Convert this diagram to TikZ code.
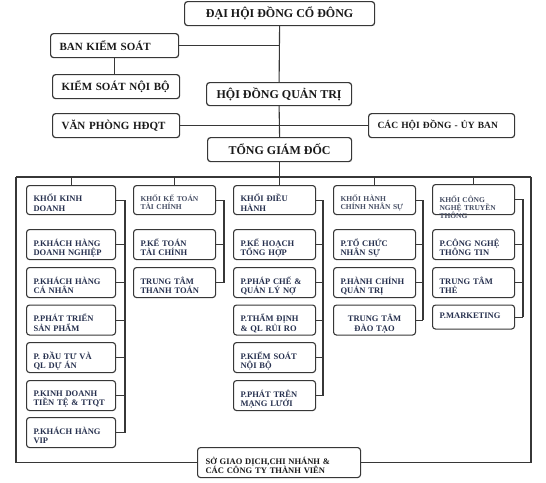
\documentclass[tikz,border=0pt]{standalone}
\usepackage{fontspec}
\setmainfont{Liberation Serif}
\definecolor{framegrey}{RGB}{55,55,55}
\definecolor{headink}{RGB}{25,25,25}
\definecolor{unitnavy}{RGB}{38,48,78}
\definecolor{unitslate}{RGB}{70,78,100}
\newcommand{\topfont}{\bfseries\fontsize{12}{14}\selectfont}
\newcommand{\midfont}{\bfseries\fontsize{11}{13}\selectfont}
\newcommand{\unitfont}{\bfseries\fontsize{8.5}{9.5}\selectfont}
\newcommand{\headunitfont}{\bfseries\fontsize{7.5}{8.5}\selectfont}

\begin{document}
\begin{tikzpicture}[x=1pt,y=-1pt,
    board/.style={draw=framegrey,line width=1.2pt,rounded corners=3pt,fill=white,
      anchor=north west,inner xsep=9pt,inner ysep=2pt,minimum height=24pt,
      font=\topfont,text=headink},
    unit/.style={draw=framegrey,line width=1.1pt,rounded corners=3pt,fill=white,
      anchor=north west,inner xsep=7pt,inner ysep=2pt,minimum height=30pt,
      text width=68pt,align=left,text depth=4pt,font=\unitfont,text=unitnavy},
    headunit/.style={unit,minimum height=29pt,font=\headunitfont,text=unitslate},
    link/.style={framegrey,line width=1.1pt}]
  \useasboundingbox (0,0) rectangle (546,482);

  % shareholders, board and CEO
  \node[board,minimum width=190pt] (dhcd) at (184,1) {ĐẠI HỘI ĐỒNG CỔ ĐÔNG};
  \node[board,font=\midfont,text width=110pt,align=left] (bks) at (50,33) {BAN KIỂM SOÁT};
  \node[board,font=\midfont,text width=109pt,align=left] (ksnb) at (52,74) {KIỂM SOÁT NỘI BỘ};
  \node[board,minimum width=145pt,minimum height=23pt] (hdqt) at (206,82) {HỘI ĐỒNG QUẢN TRỊ};
  \node[board,font=\midfont,text width=109pt,align=left] (vp) at (52,113) {VĂN PHÒNG HĐQT};
  \node[board,font=\bfseries\fontsize{9.5}{11}\selectfont,text width=128pt,align=left]
    (chd) at (368,113) {CÁC HỘI ĐỒNG - ỦY BAN};
  \node[board,minimum width=144pt] (tgd) at (207,137) {TỔNG GIÁM ĐỐC};

  % khoi kinh doanh
  \node[unit,text width=75pt,minimum height=29pt] (kd1) at (26,185) {KHỐI KINH\\DOANH};
  \node[unit,text width=75pt] (kd2) at (26,229) {P.KHÁCH HÀNG\\DOANH NGHIỆP};
  \node[unit,text width=75pt] (kd3) at (26,267) {P.KHÁCH HÀNG\\CÁ NHÂN};
  \node[unit,text width=75pt] (kd4) at (26,304.5) {P.PHÁT TRIỂN\\SẢN PHẨM};
  \node[unit,text width=75pt] (kd5) at (26,342) {P. ĐẦU TƯ VÀ\\QL DỰ ÁN};
  \node[unit,text width=75pt] (kd6) at (26,380) {P.KINH DOANH\\TIỀN TỆ \& TTQT};
  \node[unit,text width=75pt] (kd7) at (26,417) {P.KHÁCH HÀNG\\VIP};

  % khoi ke toan
  \node[headunit] (kt1) at (133,185) {KHỐI KẾ TOÁN\\TÀI CHÍNH};
  \node[unit] (kt2) at (133,229) {P.KẾ TOÁN\\TÀI CHÍNH};
  \node[unit] (kt3) at (133,267) {TRUNG TÂM\\THANH TOÁN};

  % khoi dieu hanh
  \node[unit,minimum height=29pt] (dh1) at (233,185) {KHỐI ĐIỀU\\HÀNH};
  \node[unit] (dh2) at (233,229) {P.KẾ HOẠCH\\TỔNG HỢP};
  \node[unit] (dh3) at (233,267) {P.PHÁP CHẾ \&\\QUẢN LÝ NỢ};
  \node[unit] (dh4) at (233,304.5) {P.THẨM ĐỊNH\\\& QL RỦI RO};
  \node[unit] (dh5) at (233,342) {P.KIỂM SOÁT\\NỘI BỘ};
  \node[unit] (dh6) at (233,380) {P.PHÁT TRÊN\\MẠNG LƯỚI};

  % khoi hanh chinh nhan su
  \node[headunit] (hc1) at (333,185) {KHỐI HÀNH\\CHÍNH NHÂN SỰ};
  \node[unit] (hc2) at (333,229) {P.TỔ CHỨC\\NHÂN SỰ};
  \node[unit] (hc3) at (333,267) {P.HÀNH CHÍNH\\QUẢN TRỊ};
  \node[unit,align=center] (hc4) at (333,304.5) {TRUNG TÂM\\ĐÀO TẠO};

  % khoi cong nghe
  \node[headunit,minimum height=30pt,text depth=1pt,inner ysep=1pt,
    font=\bfseries\fontsize{7.5}{8}\selectfont] (cn1) at (432,184)
    {KHỐI CÔNG\\NGHỆ TRUYỀN\\THÔNG};
  \node[unit] (cn2) at (432,229) {P.CÔNG NGHỆ\\THÔNG TIN};
  \node[unit] (cn3) at (432,267) {TRUNG TÂM\\THẺ};
  \node[unit,minimum height=24pt,text depth=2pt] (cn4) at (432,304.5) {P.MARKETING};

  % branches
  \node[unit,minimum width=163pt,text width=147pt,text=headink,
    font=\bfseries\fontsize{8.5}{9.5}\selectfont] (sgd) at (197,447)
    {SỞ GIAO DỊCH,CHI NHÁNH \&\\CÁC CÔNG TY THÀNH VIÊN};

  \coordinate (barL) at (16,177);
  \coordinate (barR) at (531,177);
  \coordinate (b1) at (125,0);
  \coordinate (b2) at (224,0);
  \coordinate (b3) at (323,0);
  \coordinate (b4) at (423,0);
  \coordinate (b5) at (523,0);

  % trunk
  \draw[link] (dhcd.south) -- (hdqt.north);
  \draw[link] (hdqt.south) -- (tgd.north);
  \draw[link] (tgd.south) -- (tgd.south |- dh1.north);
  \draw[link] (bks.east) -- (bks.east -| dhcd.south);
  \draw[link] (bks.south) -- (bks.south |- ksnb.north);
  \draw[link] (vp.east) -- (chd.west);

  % top bar and outer frame
  \draw[link] (barL) -- (barR);
  \draw[link] (barL) |- (sgd.west);
  \draw[link] (barR) |- (sgd.east);
  \draw[link] (kd1.north) -- (kd1.north |- barL);
  \draw[link] (kt1.north) -- (kt1.north |- barL);
  \draw[link] (hc1.north) -- (hc1.north |- barL);
  \draw[link] (cn1.north) -- (cn1.north |- barL);

  % column buses
  \draw[link] (kd1.east) -- (kd1.east -| b1) -- (kd7.east -| b1);
  \draw[link] (kd2.east) -- (kd2.east -| b1);
  \draw[link] (kd3.east) -- (kd3.east -| b1);
  \draw[link] (kd4.east) -- (kd4.east -| b1);
  \draw[link] (kd5.east) -- (kd5.east -| b1);
  \draw[link] (kd6.east) -- (kd6.east -| b1);
  \draw[link] (kd7.east) -- (kd7.east -| b1);
  \draw[link] (kt1.east) -- (kt1.east -| b2) -- (kt3.east -| b2);
  \draw[link] (kt2.east) -- (kt2.east -| b2);
  \draw[link] (kt3.east) -- (kt3.east -| b2);
  \draw[link] (dh1.east) -- (dh1.east -| b3) -- (dh6.east -| b3);
  \draw[link] (dh2.east) -- (dh2.east -| b3);
  \draw[link] (dh3.east) -- (dh3.east -| b3);
  \draw[link] (dh4.east) -- (dh4.east -| b3);
  \draw[link] (dh5.east) -- (dh5.east -| b3);
  \draw[link] (dh6.east) -- (dh6.east -| b3);
  \draw[link] (hc1.east) -- (hc1.east -| b4) -- (hc4.east -| b4);
  \draw[link] (hc2.east) -- (hc2.east -| b4);
  \draw[link] (hc3.east) -- (hc3.east -| b4);
  \draw[link] (hc4.east) -- (hc4.east -| b4);
  \draw[link] (cn1.east) -- (cn1.east -| b5) -- (cn4.east -| b5);
  \draw[link] (cn2.east) -- (cn2.east -| b5);
  \draw[link] (cn3.east) -- (cn3.east -| b5);
  \draw[link] (cn4.east) -- (cn4.east -| b5);
\end{tikzpicture}
\end{document}
